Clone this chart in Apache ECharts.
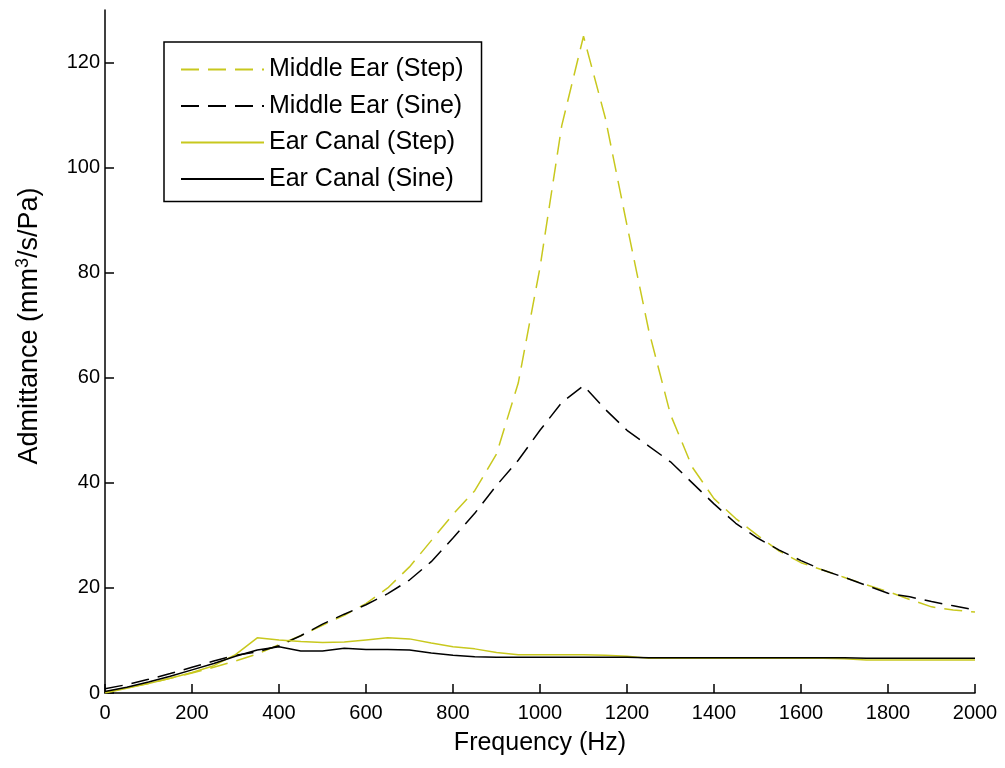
<!DOCTYPE html>
<html>
<head>
<meta charset="utf-8">
<script src="https://cdn.jsdelivr.net/npm/echarts@6/dist/echarts.min.js"></script>
<style>
  html, body { margin: 0; padding: 0; background: #fff; }
  #chart { width: 1005px; height: 768px; }
</style>
</head>
<body>
<div id="chart"></div>
<script>
// frequency samples (Hz)
const freq = [0, 50, 100, 150, 200, 250, 300, 350, 400, 450, 500, 550, 600, 650, 700, 750, 800, 850, 900, 950,
  1000, 1050, 1100, 1150, 1200, 1250, 1300, 1350, 1400, 1450, 1500, 1550, 1600, 1650, 1700, 1750, 1800, 1850, 1900, 1950, 2000]

// admittance, mm^3/s/Pa
const middleEarStep = [0.2, 1.0, 1.8, 2.8, 3.8, 4.9, 6.1, 7.4, 9.2, 10.9, 12.9, 14.8, 17.0, 20.0, 24.0, 29.0, 34.0, 38.5, 45.5, 59.0,
  81.0, 108.0, 125.0, 109.5, 89.0, 69.0, 53.0, 43.0, 37.0, 33.2, 30.0, 27.0, 24.8, 23.4, 22.0, 20.6, 19.3, 17.8, 16.4, 15.8, 15.4]
const middleEarSine = [0.8, 1.6, 2.6, 3.7, 4.9, 6.1, 7.2, 7.8, 9.0, 10.9, 13.1, 15.0, 16.8, 18.9, 21.5, 25.0, 29.5, 34.2, 39.5, 44.3,
  50.0, 55.3, 58.5, 54.0, 50.0, 47.0, 44.0, 40.0, 36.0, 32.3, 29.5, 27.2, 25.2, 23.4, 22.0, 20.5, 19.0, 18.3, 17.4, 16.6, 15.8]
const earCanalStep = [0.0, 0.9, 1.8, 2.8, 3.9, 5.2, 7.3, 10.5, 10.1, 9.8, 9.6, 9.7, 10.1, 10.5, 10.3, 9.5, 8.8, 8.4, 7.7, 7.3,
  7.3, 7.3, 7.3, 7.2, 7.0, 6.6, 6.6, 6.6, 6.6, 6.6, 6.6, 6.6, 6.6, 6.6, 6.5, 6.3, 6.3, 6.3, 6.3, 6.3, 6.3]
const earCanalSine = [0.3, 1.1, 2.1, 3.2, 4.4, 5.6, 7.0, 8.2, 8.8, 8.0, 8.0, 8.5, 8.3, 8.3, 8.2, 7.6, 7.2, 6.9, 6.8, 6.8,
  6.8, 6.8, 6.8, 6.8, 6.8, 6.7, 6.7, 6.7, 6.7, 6.7, 6.7, 6.7, 6.7, 6.7, 6.7, 6.6, 6.6, 6.6, 6.6, 6.6, 6.6]

const yellow = '#c8c81e'
const black = '#000000'
const font = 'Liberation Sans, Arial, sans-serif'

function pairs(vals) {
  return freq.map((f, i) => [f, vals[i]])
}

function makeSeries(name, vals, color, dashed) {
  return {
    name: name,
    type: 'line',
    data: pairs(vals),
    symbol: 'none',
    smooth: false,
    lineStyle: { color: color, width: 1.5, type: dashed ? [18, 9] : 'solid' },
    itemStyle: { color: color },
    animation: false
  }
}

let myChart = echarts.init(document.getElementById('chart'))

let option = {
  backgroundColor: '#fff',
  animation: false,
  grid: { left: 105, right: 30, top: 10, bottom: 75 },
  legend: {
    orient: 'vertical',
    left: 164,
    top: 42,
    padding: [15, 18, 10, 16],
    itemGap: 11.5,
    itemWidth: 83,
    itemHeight: 25,
    borderColor: '#000',
    borderWidth: 1.5,
    backgroundColor: '#fff',
    itemStyle: { opacity: 0 },
    textStyle: { fontFamily: font, fontSize: 25, color: '#000' },
    data: ['Middle Ear (Step)', 'Middle Ear (Sine)', 'Ear Canal (Step)', 'Ear Canal (Sine)']
  },
  // y axis title, drawn rotated so it can sit where the original has it
  graphic: [{
    type: 'text',
    x: 30,
    y: 326,
    rotation: Math.PI / 2,
    style: {
      text: '{a|Admittance (mm}{s|3}{a|/s/Pa)}',
      align: 'center',
      verticalAlign: 'middle',
      rich: {
        a: { fontFamily: font, fontSize: 27, lineHeight: 32, fill: '#000' },
        s: { fontFamily: font, fontSize: 18, lineHeight: 32, verticalAlign: 'top', fill: '#000' }
      }
    }
  }],
  xAxis: {
    type: 'value',
    min: 0,
    max: 2000,
    interval: 200,
    name: 'Frequency (Hz)',
    nameLocation: 'middle',
    nameGap: 38,
    nameTextStyle: { fontFamily: font, fontSize: 25, color: '#000' },
    axisLine: { lineStyle: { color: '#000', width: 1.5 } },
    axisTick: { inside: true, length: 9, lineStyle: { color: '#000', width: 1.5 } },
    axisLabel: { fontFamily: font, fontSize: 20, color: '#000', margin: 10, formatter: v => String(v) },
    splitLine: { show: false }
  },
  yAxis: {
    type: 'value',
    min: 0,
    max: 130,
    interval: 20,
    axisLine: { lineStyle: { color: '#000', width: 1.5 } },
    axisTick: { inside: true, length: 9, lineStyle: { color: '#000', width: 1.5 } },
    axisLabel: { fontFamily: font, fontSize: 20, color: '#000', margin: 5, showMaxLabel: false },
    splitLine: { show: false }
  },
  series: [
    makeSeries('Middle Ear (Step)', middleEarStep, yellow, true),
    makeSeries('Middle Ear (Sine)', middleEarSine, black, true),
    makeSeries('Ear Canal (Step)', earCanalStep, yellow, false),
    makeSeries('Ear Canal (Sine)', earCanalSine, black, false)
  ]
}
myChart.setOption(option)
</script>
</body>
</html>
